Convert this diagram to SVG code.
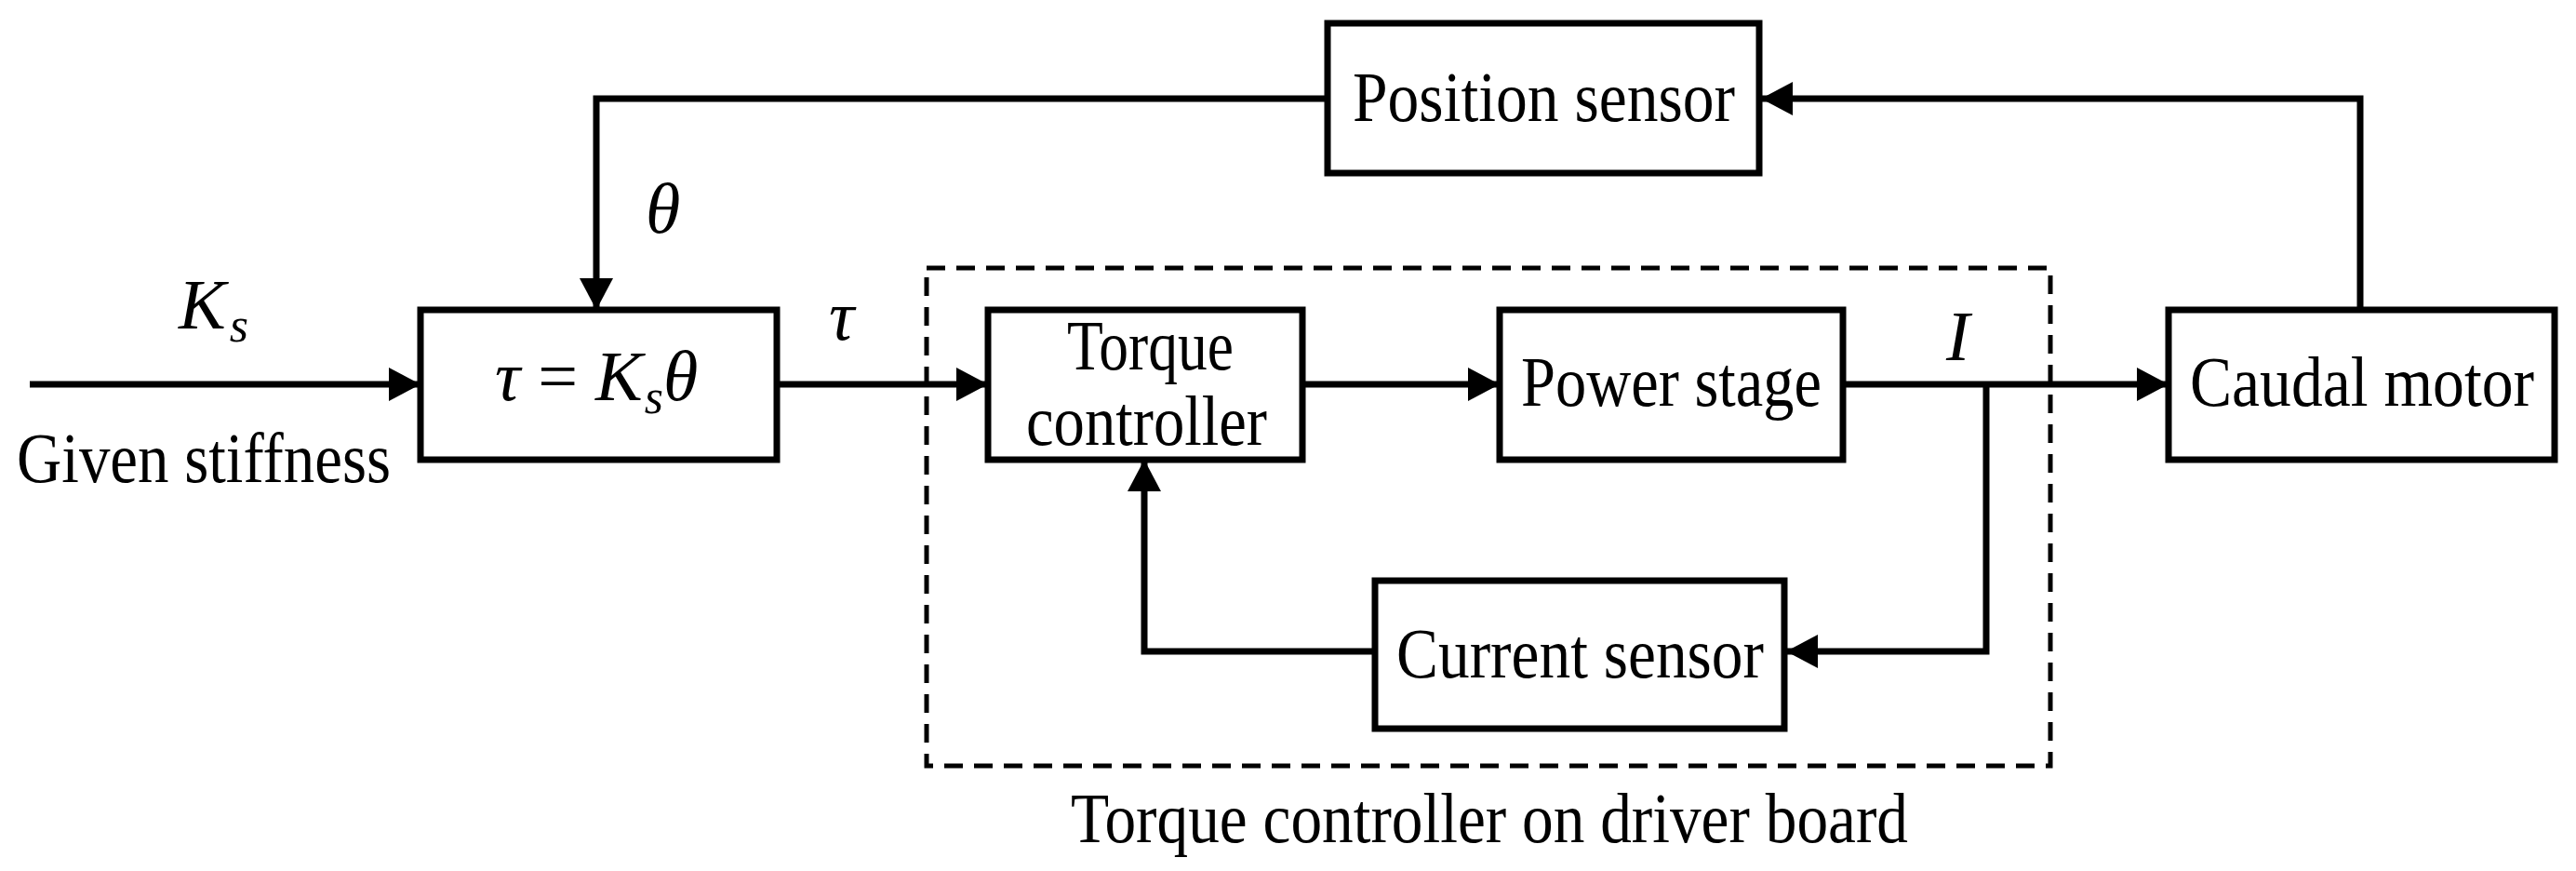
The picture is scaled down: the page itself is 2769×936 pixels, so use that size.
<svg xmlns="http://www.w3.org/2000/svg" width="2769" height="936" viewBox="0 0 2769 936">
<style>
text{font-family:"Liberation Serif","Times New Roman",serif;font-size:76px;fill:#000}
.i{font-style:italic}
.b{fill:#fff;stroke:#000;stroke-width:7}
.c{fill:none;stroke:#000;stroke-width:7}
</style>
<defs>
<marker id="a" markerUnits="userSpaceOnUse" markerWidth="36" markerHeight="36" refX="34" refY="18" orient="auto"><path d="M0,0 L34,18 L0,36 Z"/></marker>
</defs>
<rect width="2769" height="936" fill="#fff"/>
<g id="board">
<rect x="996" y="288" width="1208" height="535" fill="none" stroke="#000" stroke-width="5" stroke-dasharray="20,12"/>
<text x="1151" y="905" textLength="900" lengthAdjust="spacingAndGlyphs">Torque controller on driver board</text>
</g>
<g id="connectors">
<path class="c" d="M32,413 H452" marker-end="url(#a)"/>
<path class="c" d="M835,413 H1062" marker-end="url(#a)"/>
<path class="c" d="M1400,413 H1612" marker-end="url(#a)"/>
<path class="c" d="M1981,413 H2331" marker-end="url(#a)"/>
<path class="c" d="M2135,413 V700 H1920" marker-end="url(#a)"/>
<path class="c" d="M1478,700 H1230 V494" marker-end="url(#a)"/>
<path class="c" d="M2537,333 V106 H1893" marker-end="url(#a)"/>
<path class="c" d="M1427,106 H641 V333" marker-end="url(#a)"/>
</g>
<g id="labels">
<text x="192" y="353" class="i">K<tspan font-size="52" dx="4" dy="14">s</tspan></text>
<text x="18" y="518" textLength="402" lengthAdjust="spacingAndGlyphs">Given stiffness</text>
<text x="694" y="250" class="i">θ</text>
<text x="891" y="365" class="i">τ</text>
<text x="2092" y="387" class="i">I</text>
</g>
<g id="n1">
<rect class="b" x="452" y="333" width="383" height="161"/>
<text x="532" y="430"><tspan class="i">τ</tspan> = <tspan class="i">K</tspan><tspan class="i" font-size="52" dx="2" dy="14">s</tspan><tspan class="i" dy="-14">θ</tspan></text>
</g>
<g id="n2">
<rect class="b" x="1062" y="333" width="338" height="161"/>
<text x="1147" y="397" textLength="179" lengthAdjust="spacingAndGlyphs">Torque</text>
<text x="1103" y="478" textLength="259" lengthAdjust="spacingAndGlyphs">controller</text>
</g>
<g id="n3">
<rect class="b" x="1612" y="333" width="369" height="161"/>
<text x="1635" y="436" textLength="323" lengthAdjust="spacingAndGlyphs">Power stage</text>
</g>
<g id="n4">
<rect class="b" x="2331" y="333" width="415" height="161"/>
<text x="2354" y="436" textLength="370" lengthAdjust="spacingAndGlyphs">Caudal motor</text>
</g>
<g id="n5">
<rect class="b" x="1478" y="624" width="440" height="159"/>
<text x="1501" y="728" textLength="395" lengthAdjust="spacingAndGlyphs">Current sensor</text>
</g>
<g id="n6">
<rect class="b" x="1427" y="25" width="464" height="161"/>
<text x="1454" y="130" textLength="411" lengthAdjust="spacingAndGlyphs">Position sensor</text>
</g>
</svg>
